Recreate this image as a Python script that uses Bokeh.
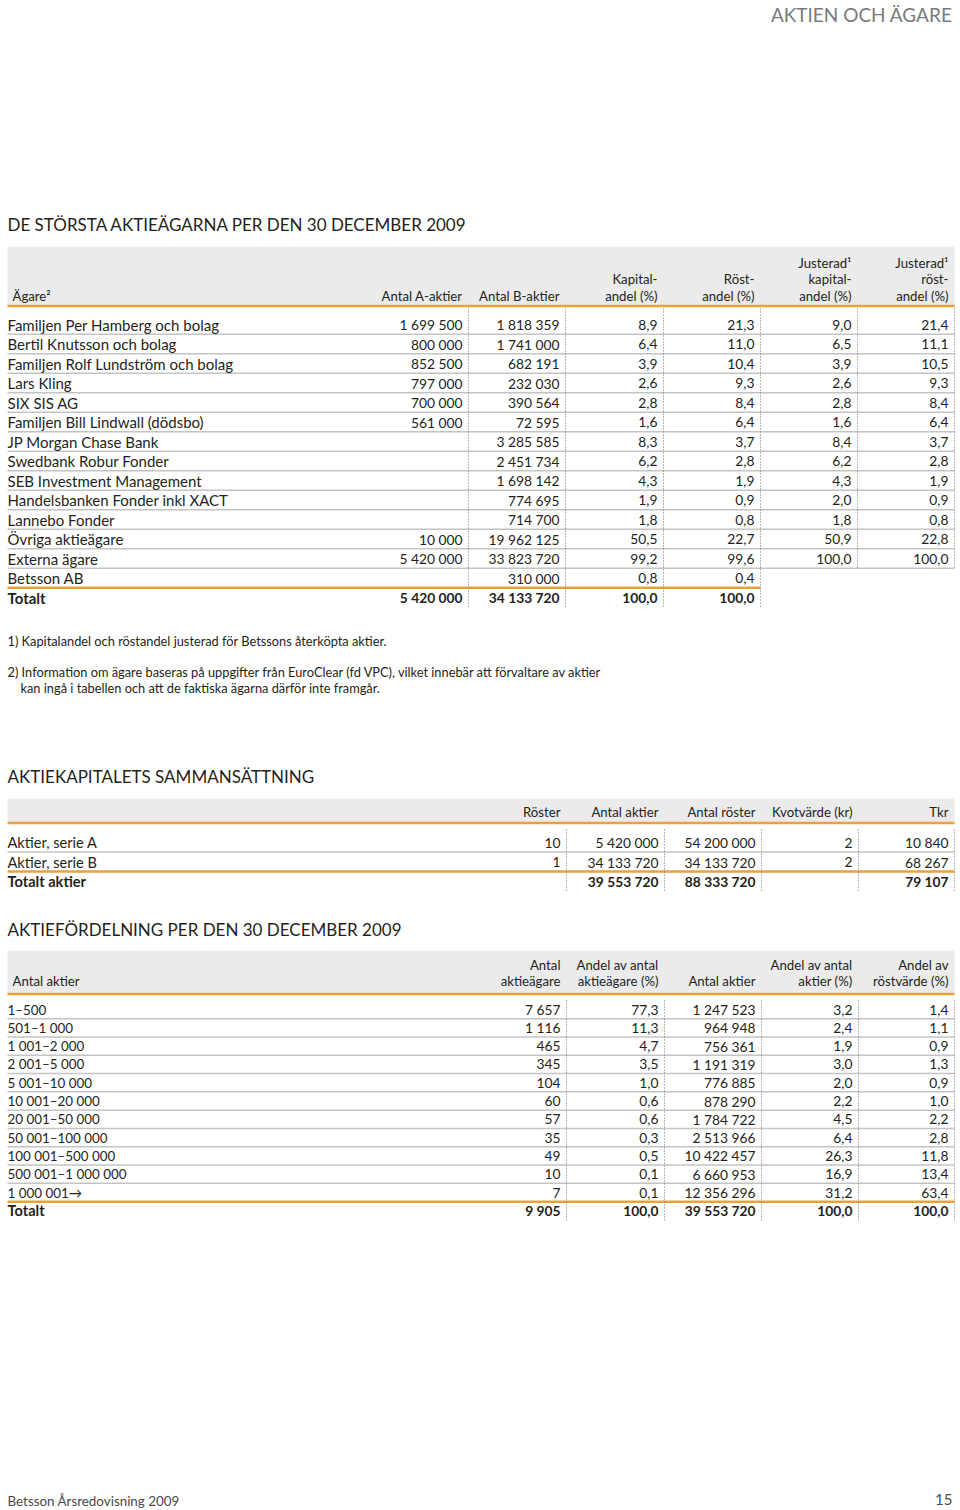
from bokeh.plotting import figure
from bokeh.models import Range1d, ColumnDataSource
from bokeh.core.properties import value
from bokeh.embed import file_html
from bokeh.resources import INLINE

FONT = "Lato"
TXT = "#231f20"
ORANGE = "#e9a23b"
GREY_LINE = "#c4c4c4"
BAND = "#ebebeb"
DOT = "#6d6d6d"

# ---------------- DATA ----------------
page_header = "AKTIEN OCH ÄGARE"
footer_left = "Betsson Årsredovisning 2009"
footer_right = "15"

t1_title = "DE STÖRSTA AKTIEÄGARNA PER DEN 30 DECEMBER 2009"
t1_headers = [
    ["Ägare²"],
    ["Antal A-aktier"],
    ["Antal B-aktier"],
    ["Kapital-", "andel (%)"],
    ["Röst-", "andel (%)"],
    ["Justerad¹", "kapital-", "andel (%)"],
    ["Justerad¹", "röst-", "andel (%)"],
]
owners = ["Familjen Per Hamberg och bolag", "Bertil Knutsson och bolag",
          "Familjen Rolf Lundström och bolag", "Lars Kling", "SIX SIS AG",
          "Familjen Bill Lindwall (dödsbo)", "JP Morgan Chase Bank",
          "Swedbank Robur Fonder", "SEB Investment Management",
          "Handelsbanken Fonder inkl XACT", "Lannebo Fonder", "Övriga aktieägare",
          "Externa ägare", "Betsson AB", "Totalt"]
a_shares = [1699500, 800000, 852500, 797000, 700000, 561000, None, None, None,
            None, None, 10000, 5420000, None, 5420000]
b_shares = [1818359, 1741000, 682191, 232030, 390564, 72595, 3285585, 2451734,
            1698142, 774695, 714700, 19962125, 33823720, 310000, 34133720]
capital_pct = [8.9, 6.4, 3.9, 2.6, 2.8, 1.6, 8.3, 6.2, 4.3, 1.9, 1.8, 50.5, 99.2, 0.8, 100.0]
vote_pct = [21.3, 11.0, 10.4, 9.3, 8.4, 6.4, 3.7, 2.8, 1.9, 0.9, 0.8, 22.7, 99.6, 0.4, 100.0]
adj_capital_pct = [9.0, 6.5, 3.9, 2.6, 2.8, 1.6, 8.4, 6.2, 4.3, 2.0, 1.8, 50.9, 100.0, None, None]
adj_vote_pct = [21.4, 11.1, 10.5, 9.3, 8.4, 6.4, 3.7, 2.8, 1.9, 0.9, 0.8, 22.8, 100.0, None, None]

footnotes = [
    ["1)  Kapitalandel och röstandel justerad för Betssons återköpta aktier."],
    ["2) Information om ägare baseras på uppgifter från EuroClear (fd VPC), vilket innebär att förvaltare av aktier",
     "kan ingå i tabellen och att de faktiska ägarna därför inte framgår."],
]

t2_title = "AKTIEKAPITALETS SAMMANSÄTTNING"
t2_headers = ["", "Röster", "Antal aktier", "Antal röster", "Kvotvärde (kr)", "Tkr"]
t2_rows = ["Aktier, serie A", "Aktier, serie B", "Totalt aktier"]
t2_votes = [10, 1, None]
t2_shares = [5420000, 34133720, 39553720]
t2_total_votes = [54200000, 34133720, 88333720]
t2_quota = [2, 2, None]
t2_tkr = [10840, 68267, 79107]

t3_title = "AKTIEFÖRDELNING PER DEN 30 DECEMBER 2009"
t3_headers = [
    ["Antal aktier"],
    ["Antal", "aktieägare"],
    ["Andel av antal", "aktieägare (%)"],
    ["Antal aktier"],
    ["Andel av antal", "aktier (%)"],
    ["Andel av", "röstvärde (%)"],
]
size_classes = ["1–500", "501–1 000", "1 001–2 000", "2 001–5 000", "5 001–10 000",
                "10 001–20 000", "20 001–50 000", "50 001–100 000", "100 001–500 000",
                "500 001–1 000 000", "1 000 001→", "Totalt"]
holders = [7657, 1116, 465, 345, 104, 60, 57, 35, 49, 10, 7, 9905]
holders_pct = [77.3, 11.3, 4.7, 3.5, 1.0, 0.6, 0.6, 0.3, 0.5, 0.1, 0.1, 100.0]
class_shares = [1247523, 964948, 756361, 1191319, 776885, 878290, 1784722, 2513966,
                10422457, 6660953, 12356296, 39553720]
class_shares_pct = [3.2, 2.4, 1.9, 3.0, 2.0, 2.2, 4.5, 6.4, 26.3, 16.9, 31.2, 100.0]
class_votes_pct = [1.4, 1.1, 0.9, 1.3, 0.9, 1.0, 2.2, 2.8, 11.8, 13.4, 63.4, 100.0]


def fmt_int(v):
    return "" if v is None else f"{v:,}".replace(",", " ")


def fmt_dec(v):
    return "" if v is None else f"{v:.1f}".replace(".", ",")


# ---------------- FIGURE ----------------
p = figure(width=960, height=1510, x_range=Range1d(0, 960), y_range=Range1d(1510, 0),
           output_backend="svg", toolbar_location=None, min_border=0,
           x_axis_location=None, y_axis_location=None)
p.grid.visible = False
p.outline_line_color = None
p.background_fill_color = "white"
p.border_fill_color = "white"

NAME = "15px"     # row labels
NUM = "13.8px"    # numbers
HEAD = "13.2px"   # column headers
TITLE = "17px"


def txt(xs, ys, texts, align="left", size=NUM, color=TXT, style="normal"):
    src = ColumnDataSource(dict(x=list(xs), y=list(ys), t=list(texts)))
    p.text(x="x", y="y", text="t", source=src, text_align=align, text_baseline="middle",
           text_font=value(FONT), text_font_size=size, text_color=color,
           text_font_style=style)


def hline(y, x0, x1, color, width):
    p.segment(x0=[x0], y0=[y], x1=[x1], y1=[y], line_color=color, line_width=width)


def dotted(xs, y0, y1s):
    p.segment(x0=xs, y0=[y0] * len(xs), x1=xs, y1=y1s, line_color=DOT,
              line_width=1, line_dash="1 2")


LEFT, RIGHT = 7, 954

# page header / footer
txt([952], [14], [page_header], align="right", size="19px", color="#7a7a7a")
txt([7], [1500], [footer_left], size="13.4px", color="#4a4a4a")
txt([952], [1499], [footer_right], align="right", size="15px", color="#4a4a4a")

# ---------------- TABLE 1 ----------------
txt([7], [224], [t1_title], size=TITLE)
p.quad(left=[LEFT], right=[RIGHT], top=[246], bottom=[305], fill_color=BAND, line_color=None)
hline(305.5, LEFT, RIGHT, ORANGE, 2.5)

t1_rights = [462, 559, 657, 754, 851, 948]
head_x = [12] + t1_rights
for i, lines in enumerate(t1_headers):
    n = len(lines)
    ys = [295 - 16.5 * (n - 1 - k) for k in range(n)]
    txt([head_x[i]] * n, ys, lines, align="left" if i == 0 else "right", size=HEAD)

n1 = len(owners)
step1 = 19.5
ys1 = [324 + step1 * i for i in range(n1)]
cols1 = [[fmt_int(v) for v in a_shares], [fmt_int(v) for v in b_shares],
         [fmt_dec(v) for v in capital_pct], [fmt_dec(v) for v in vote_pct],
         [fmt_dec(v) for v in adj_capital_pct], [fmt_dec(v) for v in adj_vote_pct]]
for i in range(n1 - 1):
    hy = ys1[i] + step1 / 2
    if i < n1 - 2:
        hline(hy, LEFT, RIGHT, GREY_LINE, 1.5)
    else:
        hline(hy, LEFT, 760, ORANGE, 2.5)
dotted([r + 6 for r in t1_rights], 308, [607, 607, 607, 607, 568, 568])
txt([7] * (n1 - 1), ys1[:-1], owners[:-1], size=NAME)
txt([7], [ys1[-1]], [owners[-1]], size=NAME, style="bold")
for c, col in enumerate(cols1):
    txt([t1_rights[c]] * (n1 - 1), ys1[:-1], col[:-1], align="right")
    txt([t1_rights[c]], [ys1[-1]], [col[-1]], align="right", style="bold")

# footnotes
txt([7], [640], footnotes[0], size="12.8px")
txt([7, 20], [671, 687], footnotes[1], size="12.8px")

# ---------------- TABLE 2 ----------------
txt([7], [776], [t2_title], size=TITLE)
p.quad(left=[LEFT], right=[RIGHT], top=[798], bottom=[822], fill_color=BAND, line_color=None)
hline(822.5, LEFT, RIGHT, ORANGE, 2.5)
t2_rights = [560, 658, 755, 852, 948]
txt(t2_rights, [811] * 5, t2_headers[1:], align="right", size=HEAD)
ys2 = [842, 861.5, 881]
hline(851.5, LEFT, RIGHT, GREY_LINE, 1.5)
hline(871, LEFT, RIGHT, ORANGE, 2.5)
dotted([r + 6 for r in t2_rights], 829, [891] * 5)
cols2 = [[fmt_int(v) for v in t2_votes], [fmt_int(v) for v in t2_shares],
         [fmt_int(v) for v in t2_total_votes], [fmt_int(v) for v in t2_quota],
         [fmt_int(v) for v in t2_tkr]]
txt([7, 7], ys2[:2], t2_rows[:2], size="14.6px")
txt([7], [ys2[2]], [t2_rows[2]], size="14.6px", style="bold")
for c, col in enumerate(cols2):
    txt([t2_rights[c]] * 2, ys2[:2], col[:2], align="right")
    txt([t2_rights[c]], [ys2[2]], [col[2]], align="right", style="bold")

# ---------------- TABLE 3 ----------------
txt([7], [929], [t3_title], size=TITLE)
p.quad(left=[LEFT], right=[RIGHT], top=[950], bottom=[993], fill_color=BAND, line_color=None)
hline(993.5, LEFT, RIGHT, ORANGE, 2.5)
t3_rights = [560, 658, 755, 852, 948]
head_x3 = [12] + t3_rights
for i, lines in enumerate(t3_headers):
    n = len(lines)
    ys = [980 - 15.5 * (n - 1 - k) for k in range(n)]
    txt([head_x3[i]] * n, ys, lines, align="left" if i == 0 else "right", size=HEAD)

n3 = len(size_classes)
step3 = 18.3
ys3 = [1009 + step3 * i for i in range(n3)]
for i in range(n3 - 1):
    hy = ys3[i] + step3 / 2
    if i < n3 - 2:
        hline(hy, LEFT, RIGHT, GREY_LINE, 1.5)
    else:
        hline(hy, LEFT, RIGHT, ORANGE, 2.5)
dotted([r + 6 for r in t3_rights], 1000, [1220] * 5)
cols3 = [[fmt_int(v) for v in holders], [fmt_dec(v) for v in holders_pct],
         [fmt_int(v) for v in class_shares], [fmt_dec(v) for v in class_shares_pct],
         [fmt_dec(v) for v in class_votes_pct]]
txt([7] * (n3 - 1), ys3[:-1], size_classes[:-1], size="13.4px")
txt([7], [ys3[-1]], [size_classes[-1]], size="14.6px", style="bold")
for c, col in enumerate(cols3):
    txt([t3_rights[c]] * (n3 - 1), ys3[:-1], col[:-1], align="right")
    txt([t3_rights[c]], [ys3[-1]], [col[-1]], align="right", style="bold")

open("out.html", "w").write(file_html(p, INLINE))
